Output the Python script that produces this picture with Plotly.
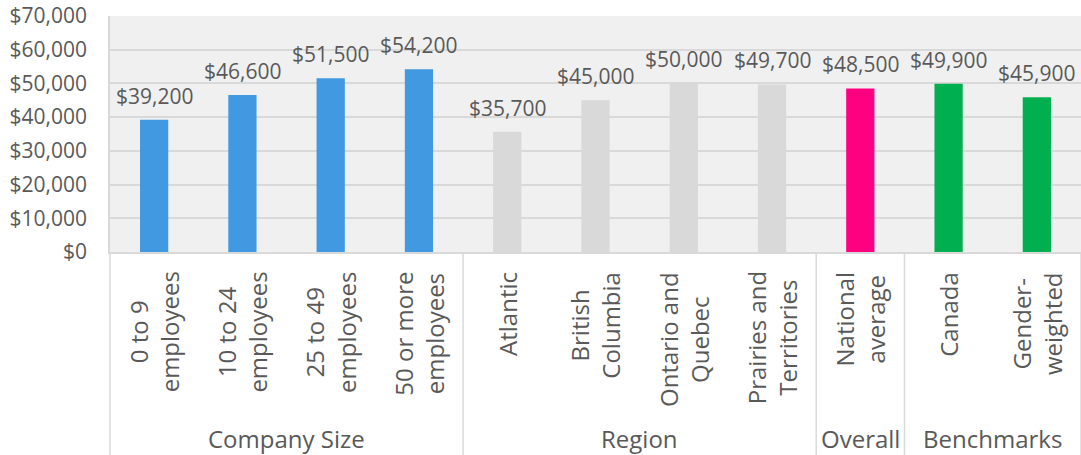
"""Average salary by company size, region and benchmark."""
import plotly.graph_objects as go

# data
company_size = ["0 to 9<br>employees", "10 to 24<br>employees",
                "25 to 49<br>employees", "50 or more<br>employees"]
company_size_vals = [39200, 46600, 51500, 54200]
regions = ["Atlantic", "British<br>Columbia", "Ontario and<br>Quebec",
           "Prairies and<br>Territories"]
region_vals = [35700, 45000, 50000, 49700]
overall = ["National<br>average"]
overall_vals = [48500]
benchmarks = ["Canada", "Gender-<br>weighted"]
benchmark_vals = [49900, 45900]

group_names = ["Company Size", "Region", "Overall", "Benchmarks"]
group_cats = [company_size, regions, overall, benchmarks]
group_vals = [company_size_vals, region_vals, overall_vals, benchmark_vals]
group_colors = ["#4199E1", "#D9D9D9", "#FF0080", "#00B050"]

FONT = "Open Sans"
TEXT_COLOR = "#595959"
LINE_COLOR = "#D9D9D9"

cats, vals, colors = [], [], []
for c, v, col in zip(group_cats, group_vals, group_colors):
    cats += c
    vals += v
    colors += [col] * len(c)
n = len(cats)

fig = go.Figure(go.Bar(
    x=cats, y=vals,
    marker=dict(color=colors, line=dict(width=0)),
    hoverinfo="x+y",
))

# value labels above bars
for c, v in zip(cats, vals):
    fig.add_annotation(x=c, y=v, text=f"${v:,}", showarrow=False,
                       yanchor="bottom", yshift=8,
                       font=dict(family=FONT, size=21, color=TEXT_COLOR))

plot_h = 455 - 16 - 203
bottom = -203 / plot_h

# rotated category labels under the axis
for c in cats:
    fig.add_annotation(x=c, xref="x", y=-0.075, yref="paper", text=c,
                       showarrow=False, textangle=-90, align="center",
                       yanchor="top", xanchor="center",
                       font=dict(family=FONT, size=24, color=TEXT_COLOR))

# group dividers and group labels
start = 0
edges = [0]
for name, c in zip(group_names, group_cats):
    end = start + len(c)
    edges.append(end)
    fig.add_annotation(x=(start + end) / 2 / n, xref="paper",
                       y=-(438 - 252) / plot_h, yref="paper", text=name,
                       showarrow=False, xanchor="center", yanchor="middle",
                       font=dict(family=FONT, size=24, color=TEXT_COLOR))
    start = end
for e in edges:
    fig.add_shape(type="line", xref="paper", yref="paper",
                  x0=e / n, x1=e / n, y0=0, y1=bottom,
                  line=dict(color=LINE_COLOR, width=1.5))

fig.update_layout(
    width=1081, height=455,
    margin=dict(l=110, r=0, t=16, b=203, autoexpand=False),
    paper_bgcolor="white",
    plot_bgcolor="#F0F0F0",
    bargap=0.68,
    showlegend=False,
    font=dict(family=FONT, color=TEXT_COLOR),
)
fig.update_xaxes(showticklabels=False, showgrid=False, showline=True,
                 linecolor=LINE_COLOR, linewidth=1.5)
fig.update_yaxes(range=[0, 70000], dtick=10000, tickprefix="$",
                 tickformat=",d", showgrid=True, gridcolor=LINE_COLOR,
                 gridwidth=1.5, zeroline=False, showline=True,
                 linecolor=LINE_COLOR, linewidth=1.5,
                 ticks="outside", ticklen=17, tickcolor="rgba(0,0,0,0)",
                 ticklabeloverflow="allow",
                 tickfont=dict(family=FONT, size=21, color=TEXT_COLOR))

# drop the default 8px page margin so the figure fills the window
fig.write_html("out.html", config={"displayModeBar": False},
               post_script="document.body.style.margin='0';")
